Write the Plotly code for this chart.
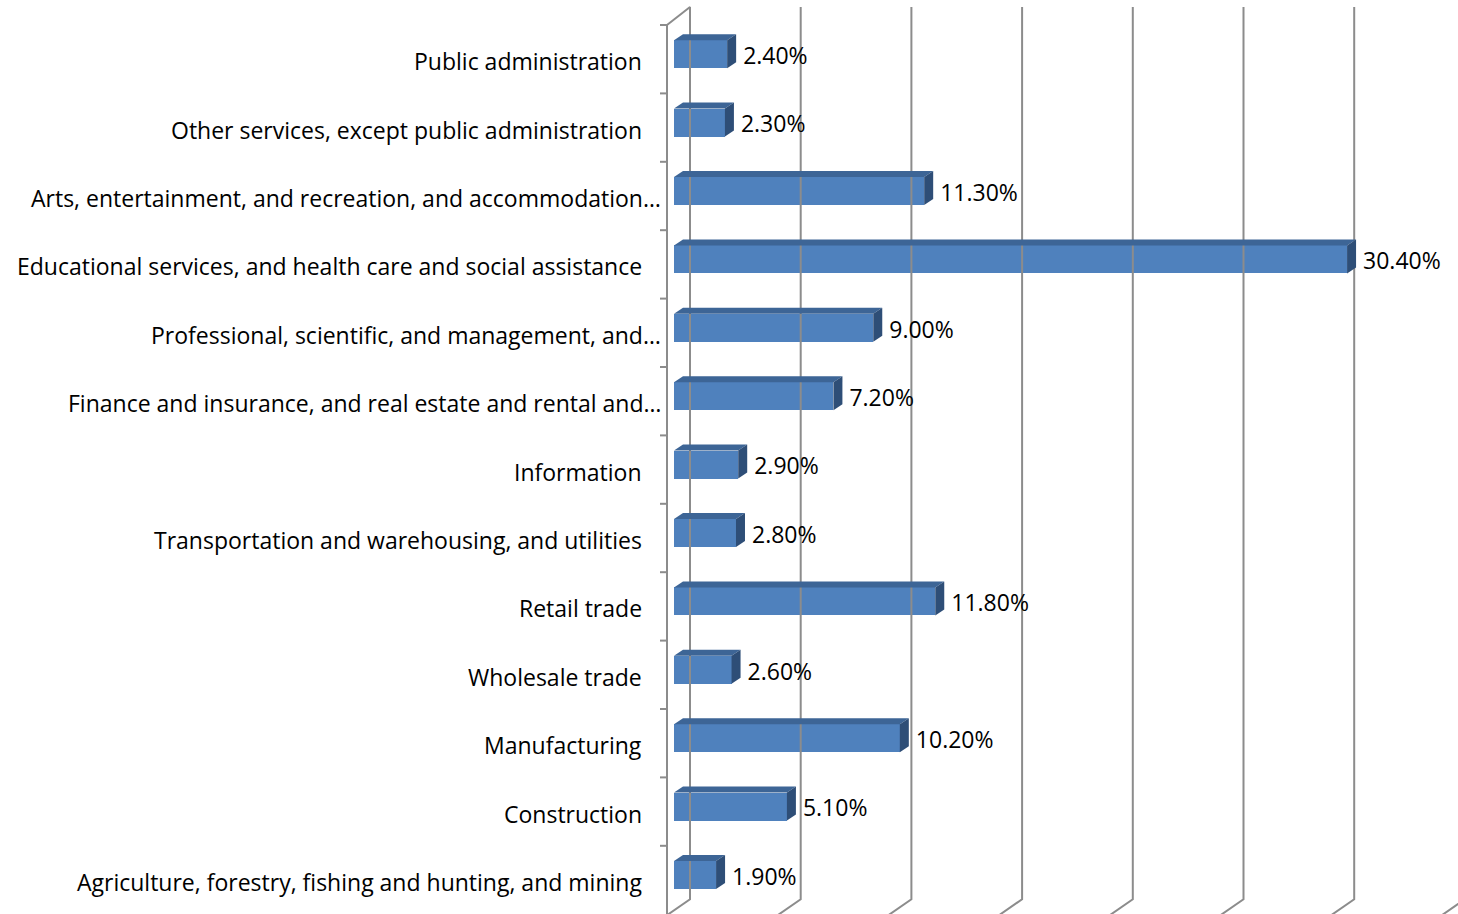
import plotly.graph_objects as go

industries = [
    "Agriculture, forestry, fishing and hunting, and mining",
    "Construction",
    "Manufacturing",
    "Wholesale trade",
    "Retail trade",
    "Transportation and warehousing, and utilities",
    "Information",
    "Finance and insurance, and real estate and rental and…",
    "Professional, scientific, and management, and…",
    "Educational services, and health care and social assistance",
    "Arts, entertainment, and recreation, and accommodation…",
    "Other services, except public administration",
    "Public administration",
]
shares = [1.9, 5.1, 10.2, 2.6, 11.8, 2.8, 2.9, 7.2, 9.0, 30.4, 11.3, 2.3, 2.4]
grid_values = [0, 5, 10, 15, 20, 25, 30, 35]

W, H = 1458, 914
PX_X = 110.7 / 5      # pixels per percentage point
X0 = 674              # pixel of the front zero
PX_Y = 68.4           # pixels per category
Y_TOP = 25            # pixel of the top of the front axis

x_range = [-X0 / PX_X, (W - X0) / PX_X]
y_range = [12.5 - (H - Y_TOP) / PX_Y, 12.5 + Y_TOP / PX_Y]


def dx(px):
    return px / PX_X


def dy(px):
    return px / PX_Y


FRONT = "#4f81bd"
TOP = "#3d6596"
SIDE = "#2e4e77"
GRID = "#8c8c8c"
FONT = "Open Sans"
FSIZE = 23

fig = go.Figure()

# back wall gridlines with the 3d floor/ceiling diagonals
depth_x, depth_top, depth_bot = dx(23), dy(18), dy(15)
ybot, ytop = -0.5, len(industries) - 0.5
for g in grid_values:
    gx = g + dx(16)
    xs = [gx - depth_x, gx, gx]
    ys = [ybot - dy(1), ybot + depth_bot, ytop + depth_top]
    if g == 0:
        xs = xs + [gx - depth_x]
        ys = ys + [ytop]
    fig.add_trace(go.Scatter(x=xs, y=ys, mode="lines",
                             line=dict(color=GRID, width=2),
                             hoverinfo="skip", showlegend=False))

# front category axis with tick marks
ax_x = dx(-7)
fig.add_trace(go.Scatter(x=[ax_x, ax_x], y=[ybot - dy(1), ytop], mode="lines",
                         line=dict(color=GRID, width=2),
                         hoverinfo="skip", showlegend=False))
for i in range(len(industries)):
    b = i + 0.5
    fig.add_trace(go.Scatter(x=[ax_x - dx(7), ax_x], y=[b, b], mode="lines",
                             line=dict(color=GRID, width=2),
                             hoverinfo="skip", showlegend=False))

# 3d bars: front face + top + side
cats = list(range(len(industries)))
b_lo, b_hi = -dy(9), dy(19)
sx, sy = dx(9), dy(6)
fig.add_trace(go.Bar(x=shares, y=cats, orientation="h", base=0,
                     offset=b_lo, width=b_hi - b_lo,
                     marker=dict(color=FRONT, line=dict(width=0)),
                     showlegend=False))
for i, v in enumerate(shares):
    top = i + b_hi
    bot = i + b_lo
    fig.add_trace(go.Scatter(
        x=[0, v, v + sx, sx, 0], y=[top, top, top + sy, top + sy, top],
        mode="lines", fill="toself", fillcolor=TOP, line=dict(width=0),
        hoverinfo="skip", showlegend=False))
    fig.add_trace(go.Scatter(
        x=[v, v + sx, v + sx, v, v], y=[top, top + sy, bot + sy, bot, top],
        mode="lines", fill="toself", fillcolor=SIDE, line=dict(width=0),
        hoverinfo="skip", showlegend=False))

# value labels
fig.add_trace(go.Scatter(
    x=[v + sx + dx(7) for v in shares], y=[i + dy(1) for i in cats],
    mode="text", text=[f"{v:.2f}%" for v in shares],
    textposition="middle right",
    textfont=dict(family=FONT, size=FSIZE, color="#000000"),
    hoverinfo="skip", showlegend=False))

# category labels
for i, name in enumerate(industries):
    shift = -4 if name.endswith("…") else -23
    fig.add_annotation(x=ax_x, y=i - dy(2), xref="x", yref="y", text=name,
                       showarrow=False, xanchor="right", yanchor="middle",
                       xshift=shift, font=dict(family=FONT, size=FSIZE, color="#000000"))

fig.update_layout(
    width=W, height=H,
    margin=dict(l=0, r=0, t=0, b=0),
    paper_bgcolor="white", plot_bgcolor="white",
    xaxis=dict(range=x_range, visible=False, fixedrange=True),
    yaxis=dict(range=y_range, visible=False, fixedrange=True),
    bargap=0,
)

fig.write_html("out.html", config={"displayModeBar": False},
               post_script="document.body.style.margin='0';")
